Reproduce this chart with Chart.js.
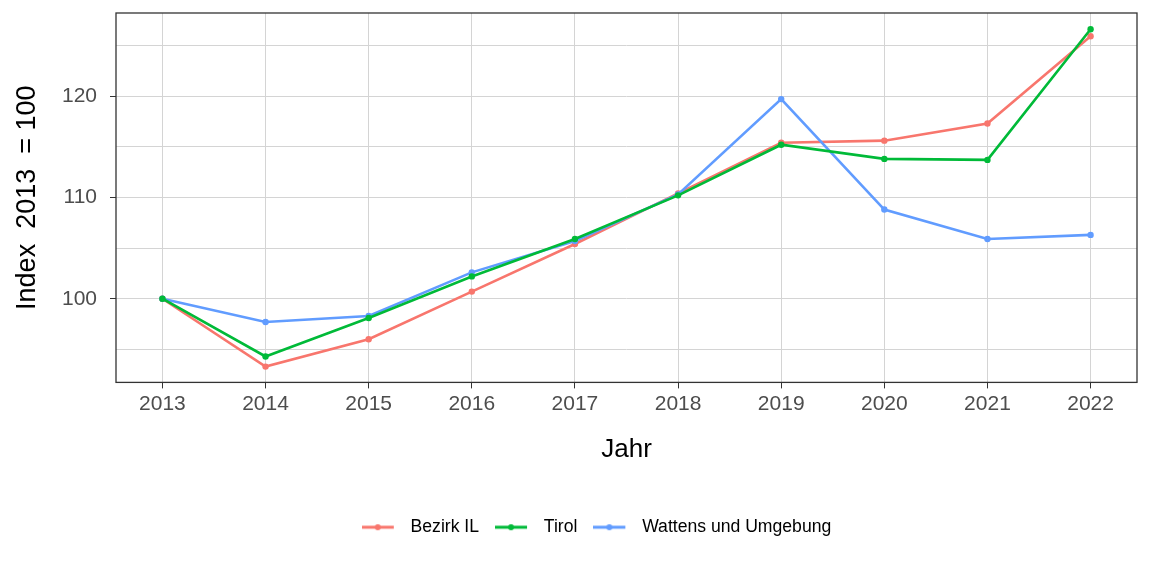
<!DOCTYPE html>
<html>
<head>
<meta charset="utf-8">
<script src="https://cdn.jsdelivr.net/npm/chart.js@4/dist/chart.umd.min.js"></script>
<style>
  html, body { margin: 0; padding: 0; background: #fff; }
  #wrap { width: 1152px; height: 576px; }
</style>
</head>
<body>
<div id="wrap"><canvas id="indexChart" width="1152" height="576"></canvas></div>
<script>
// Jahre und Indexwerte (2013 = 100)
const years = [2013, 2014, 2015, 2016, 2017, 2018, 2019, 2020, 2021, 2022];
const bezirkIL = [100, 93.3, 96.0, 100.7, 105.4, 110.4, 115.4, 115.6, 117.3, 125.9];
const tirol = [100, 94.3, 98.1, 102.2, 105.9, 110.2, 115.2, 113.8, 113.7, 126.6];
const wattens = [100, 97.7, 98.3, 102.6, 105.7, 110.3, 119.7, 108.8, 105.9, 106.3];
const yTicks = [95, 100, 105, 110, 115, 120, 125];

const FONT = "'Liberation Sans', Arial, sans-serif";

function toPoints(vals) {
  return years.map((y, i) => ({ x: y, y: vals[i] }));
}

// Legenden-Symbol: Linie mit Punkt in der Mitte (rechts 8px frei als Abstand zum Text)
function legendIcon(color) {
  const c = document.createElement('canvas');
  c.width = 40; c.height = 10;
  const g = c.getContext('2d');
  g.strokeStyle = color; g.lineWidth = 3;
  g.beginPath(); g.moveTo(0, 5); g.lineTo(32, 5); g.stroke();
  g.fillStyle = color;
  g.beginPath(); g.arc(16, 5, 3, 0, Math.PI * 2); g.fill();
  return c;
}

// Rahmen um die Plotfläche + Legende etwas nach rechts schieben wie im Original
const frame = {
  id: 'frame',
  afterLayout(chart) {
    if (chart.legend) { chart.legend.left += 28; chart.legend.right += 28; }
  },
  afterDraw(chart) {
    const a = chart.chartArea, ctx = chart.ctx;
    ctx.save();
    ctx.strokeStyle = '#333333';
    ctx.lineWidth = 1.3;
    ctx.strokeRect(a.left, a.top, a.right - a.left, a.bottom - a.top);
    ctx.restore();
  }
};

function series(label, vals, color, order) {
  return {
    label: label,
    data: toPoints(vals),
    borderColor: color,
    backgroundColor: color,
    borderWidth: 2.6,
    pointRadius: 3.2,
    pointHoverRadius: 3.2,
    pointBorderWidth: 0,
    tension: 0,
    order: order
  };
}

document.addEventListener("DOMContentLoaded", function() {
  const ctx = document.getElementById('indexChart').getContext('2d');
  new Chart(ctx, {
    type: 'line',
    data: {
      datasets: [
        series('Bezirk IL', bezirkIL, '#F8766D', 2),
        series('Tirol', tirol, '#00BA38', 0),
        series('Wattens und Umgebung', wattens, '#619CFF', 1)
      ]
    },
    options: {
      responsive: false,
      animation: false,
      layout: { padding: { top: 13, right: 15, left: 0, bottom: 30 } },
      plugins: {
        tooltip: { enabled: false },
        legend: {
          position: 'bottom',
          labels: {
            font: { family: FONT, size: 17.6 },
            color: '#000',
            padding: 16,
            usePointStyle: true,
            pointStyleWidth: 40,
            generateLabels(chart) {
              return chart.data.datasets.map((d, i) => ({
                text: d.label,
                pointStyle: legendIcon(d.borderColor),
                fillStyle: d.borderColor,
                strokeStyle: d.borderColor,
                lineWidth: 0,
                hidden: false,
                datasetIndex: i,
                fontColor: '#000'
              }));
            }
          }
        }
      },
      scales: {
        x: {
          type: 'linear',
          min: 2012.55,
          max: 2022.45,
          afterBuildTicks(s) { s.ticks = years.map(v => ({ value: v })); },
          afterFit(s) { s.height = 120; },
          ticks: {
            callback: v => String(v),
            font: { family: FONT, size: 21 },
            color: '#4d4d4d',
            padding: 3,
            maxRotation: 0,
            autoSkip: false
          },
          grid: { color: '#d4d4d4', lineWidth: 1, tickLength: 6, tickColor: '#333333' },
          border: { display: false },
          title: {
            display: true,
            text: 'Jahr',
            font: { family: FONT, size: 26 },
            color: '#000',
            padding: { top: 0, bottom: 37 }
          }
        },
        y: {
          type: 'linear',
          min: 91.74,
          max: 128.2,
          afterBuildTicks(s) { s.ticks = yTicks.map(v => ({ value: v })); },
          afterFit(s) { s.width = 116; s.paddingTop = 0; s.paddingBottom = 0; },
          ticks: {
            callback: v => (v % 10 === 0 ? String(v) : ''),
            font: { family: FONT, size: 21 },
            color: '#4d4d4d',
            padding: 13
          },
          grid: {
            color: '#d4d4d4',
            lineWidth: 1,
            tickLength: 6,
            tickColor: c => (c.tick && c.tick.value % 10 === 0 ? '#333333' : 'rgba(0,0,0,0)')
          },
          border: { display: false },
          title: {
            display: true,
            text: 'Index  2013  = 100',
            font: { family: FONT, size: 27 },
            color: '#000',
            padding: { top: 11, bottom: 0 }
          }
        }
      }
    },
    plugins: [frame]
  });
});
</script>
</body>
</html>
